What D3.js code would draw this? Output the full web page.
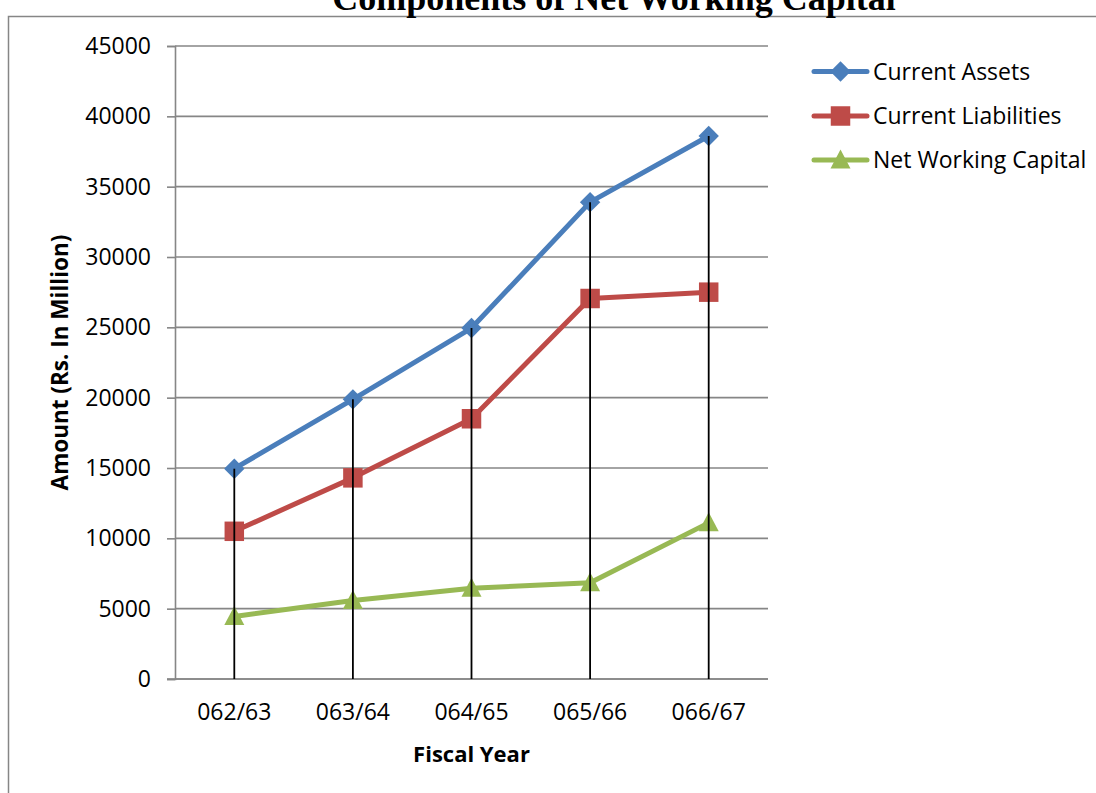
<!DOCTYPE html>
<html>
<head>
<meta charset="utf-8">
<script src="https://cdn.jsdelivr.net/npm/d3@7"></script>
<style>
  html, body { margin: 0; padding: 0; background: #fff; }
  svg { display: block; }
</style>
</head>
<body>
<svg id="chart" width="1096" height="793"></svg>
<script>
// Fiscal years and the three working-capital series (Rs. in million)
const fiscalYears = ["062/63", "063/64", "064/65", "065/66", "066/67"];
const currentAssets = [14950, 19880, 24950, 33900, 38600];
const currentLiabilities = [10500, 14300, 18500, 27050, 27500];
const netWorkingCapital = [4450, 5580, 6450, 6850, 11100];
const yTicks = [0, 5000, 10000, 15000, 20000, 25000, 30000, 35000, 40000, 45000];

const seriesNames = ["Current Assets", "Current Liabilities", "Net Working Capital"];
const seriesColors = ["#4A7EBB", "#BE4B48", "#98B954"];
const seriesMarkers = ["diamond", "square", "triangle"];
const seriesValues = [currentAssets, currentLiabilities, netWorkingCapital];

const svg = d3.select("#chart");
const plot = { left: 175, right: 768, top: 46, bottom: 679 };
const uiFont = "'Open Sans', 'Noto Sans', sans-serif";

// Outer chart frame (left and top edges; the rest runs past the page)
svg.append("path")
  .attr("d", "M8.5,800V16.5H1100")
  .attr("fill", "none").attr("stroke", "#868686").attr("stroke-width", 1.5);

// Title (sits on the top edge of the frame)
svg.append("text")
  .attr("x", 614).attr("y", 10)
  .attr("text-anchor", "middle")
  .attr("font-family", "'Liberation Serif', 'Times New Roman', serif")
  .attr("font-weight", "bold")
  .attr("font-size", 36)
  .text("Components of Net Working Capital");

const x = d3.scaleBand().domain(fiscalYears).range([plot.left, plot.right]);
const y = d3.scaleLinear().domain([0, 45000]).range([plot.bottom, plot.top]);
const cx = d => x(d) + x.bandwidth() / 2;

// Horizontal gridlines
svg.append("g")
  .selectAll("line")
  .data(yTicks)
  .join("line")
  .attr("x1", plot.left).attr("x2", plot.right)
  .attr("y1", d => y(d)).attr("y2", d => y(d))
  .attr("stroke", "#868686").attr("stroke-width", 1.6);

// Y axis
const yAxis = svg.append("g")
  .attr("transform", `translate(${plot.left},0)`)
  .call(d3.axisLeft(y).tickValues(yTicks).tickFormat(d3.format("d")).tickSize(8).tickPadding(16));
yAxis.select(".domain").attr("stroke", "#868686").attr("stroke-width", 1.6);
yAxis.selectAll(".tick line").attr("stroke", "#868686").attr("stroke-width", 1.6);
yAxis.selectAll(".tick text")
  .attr("font-family", uiFont).attr("font-size", 23).attr("fill", "#000");

// X axis
const xAxis = svg.append("g")
  .attr("transform", `translate(0,${plot.bottom})`)
  .call(d3.axisBottom(x).tickSize(0).tickPadding(25));
xAxis.select(".domain").attr("stroke", "#868686").attr("stroke-width", 1.6)
  .attr("d", `M${plot.left - 8},0H${plot.right}`);
xAxis.selectAll(".tick text")
  .attr("font-family", uiFont).attr("font-size", 23).attr("fill", "#000");

// Axis titles
svg.append("text")
  .attr("transform", `translate(68,${(plot.top + plot.bottom) / 2}) rotate(-90)`)
  .attr("text-anchor", "middle")
  .attr("font-family", uiFont).attr("font-weight", "bold").attr("font-size", 22.5)
  .text("Amount (Rs. In Million)");
svg.append("text")
  .attr("x", (plot.left + plot.right) / 2).attr("y", 762)
  .attr("text-anchor", "middle")
  .attr("font-family", uiFont).attr("font-weight", "bold").attr("font-size", 22)
  .text("Fiscal Year");

// Marker shapes
const markerPath = {
  diamond: "M0,-10.2L10.2,0L0,10.2L-10.2,0Z",
  square: d3.symbol().type(d3.symbolSquare).size(380)(),
  triangle: "M0,-10.5L10,8.5L-10,8.5Z"
};

const line = d3.line().x(d => cx(d.year)).y(d => y(d.value));

seriesValues.forEach((vals, i) => {
  const pts = fiscalYears.map((yr, j) => ({ year: yr, value: vals[j] }));
  const g = svg.append("g");
  g.append("path")
    .datum(pts)
    .attr("d", line)
    .attr("fill", "none")
    .attr("stroke", seriesColors[i])
    .attr("stroke-width", 5)
    .attr("stroke-linejoin", "round")
    .attr("stroke-linecap", "round");
  g.selectAll("path.mk")
    .data(pts)
    .join("path")
    .attr("class", "mk")
    .attr("d", markerPath[seriesMarkers[i]])
    .attr("transform", d => `translate(${cx(d.year)},${y(d.value)})`)
    .attr("fill", seriesColors[i]);
});

// Drop lines from the highest series value down to the category axis
const maxPerYear = fiscalYears.map((yr, j) => ({ year: yr, value: d3.max(seriesValues, s => s[j]) }));
svg.append("g")
  .selectAll("line")
  .data(maxPerYear)
  .join("line")
  .attr("x1", d => cx(d.year)).attr("x2", d => cx(d.year))
  .attr("y1", d => y(d.value)).attr("y2", y(0))
  .attr("stroke", "#000").attr("stroke-width", 1.8);

// Legend
const legend = svg.append("g");
const legendRows = [71.5, 116, 160];
seriesNames.forEach((name, i) => {
  const row = legend.append("g").attr("transform", `translate(0,${legendRows[i]})`);
  row.append("line")
    .attr("x1", 814).attr("x2", 867).attr("y1", 0).attr("y2", 0)
    .attr("stroke", seriesColors[i]).attr("stroke-width", 5).attr("stroke-linecap", "round");
  row.append("path")
    .attr("d", markerPath[seriesMarkers[i]])
    .attr("transform", "translate(840.5,0)")
    .attr("fill", seriesColors[i]);
  row.append("text")
    .attr("x", 873).attr("y", 0).attr("dy", "0.35em")
    .attr("font-family", uiFont).attr("font-size", 23)
    .text(name);
});
</script>
</body>
</html>
